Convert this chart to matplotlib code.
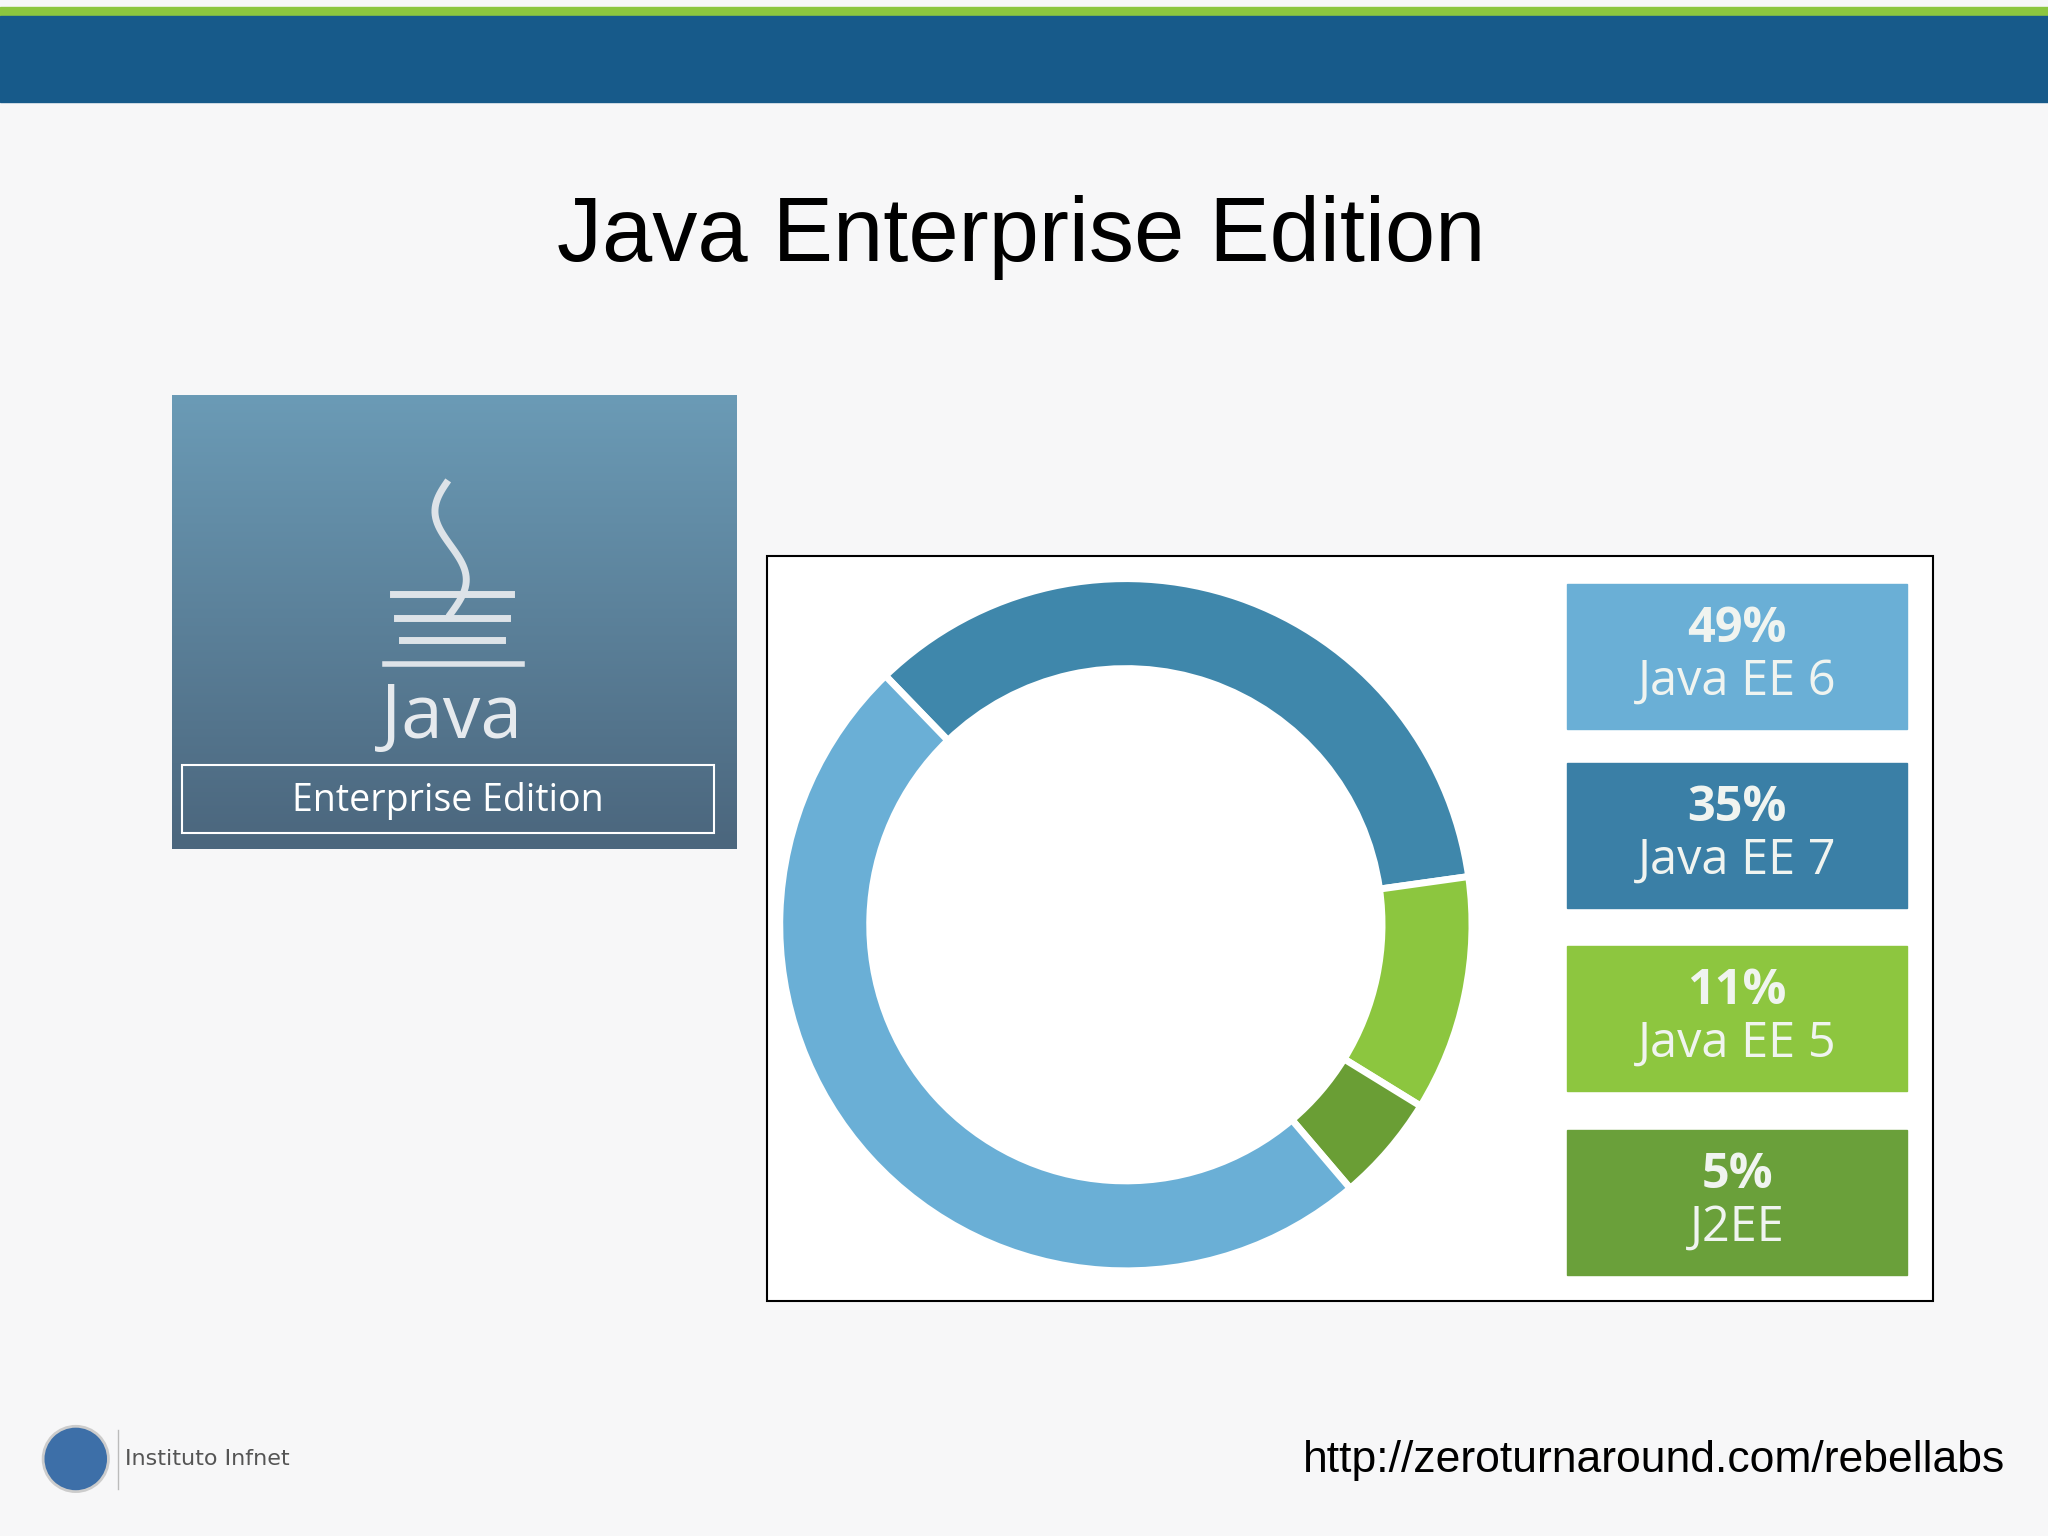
import matplotlib
matplotlib.use('Agg')
import matplotlib.pyplot as plt
from matplotlib.patches import Rectangle
import numpy as np

# data
labels = ['Java EE 7', 'Java EE 5', 'J2EE', 'Java EE 6']
shares = [35, 11, 5, 49]
wedge_colors = ['#3f87ab', '#8cc63f', '#6a9e35', '#6aafd6']
legend_labels = ['Java EE 6', 'Java EE 7', 'Java EE 5', 'J2EE']
legend_shares = [49, 35, 11, 5]
legend_colors = ['#6aafd6', '#3a7fa6', '#8dc63f', '#6aa03a']

W, H = 1568, 1176
fig = plt.figure(figsize=(20.48, 15.36), dpi=100)
fig.patch.set_facecolor('#f7f7f8')
bg = fig.add_axes([0, 0, 1, 1])
bg.set_xlim(0, W); bg.set_ylim(H, 0); bg.axis('off')

# header bands
bg.add_patch(Rectangle((0, 5), W, 7, color='#8cc63f'))
bg.add_patch(Rectangle((0, 12), W, 66, color='#175a8a'))

bg.text(782, 182, 'Java Enterprise Edition', ha='center', va='center',
        fontsize=65, family='Liberation Sans', color='black')

# java box with gradient
grad = np.linspace(0, 1, 256).reshape(-1, 1)
cmap = matplotlib.colors.LinearSegmentedColormap.from_list('g', ['#6b9bb6', '#4b667d'])
bg.imshow(grad, extent=(132, 564, 650, 303), cmap=cmap, aspect='auto', zorder=1)
bg.set_xlim(0, W); bg.set_ylim(H, 0)
bg.add_patch(Rectangle((139, 586), 408, 52, fill=False, ec='white', lw=1.5, zorder=2))
bg.text(343, 613, 'Enterprise Edition', ha='center', va='center', fontsize=27,
        family='Open Sans', color='white', zorder=3)
bg.text(346, 550, 'Java', ha='center', va='center', fontsize=54,
        family='Open Sans', color='#e6eaee', zorder=3)
# cup
t = np.linspace(0, 1, 50)
bg.plot(345 + 12*np.sin(t*6), 470 - 100*t, color='#dde3e8', lw=5, zorder=3)
for yy, hw in [(455, 45), (473, 42), (490, 38)]:
    bg.plot([346-hw, 346+hw], [yy, yy], color='#dde3e8', lw=5, zorder=3)
bg.plot([295, 400], [508, 508], color='#dde3e8', lw=4, zorder=3)

# chart box
bg.add_patch(Rectangle((587, 426), 893, 570, fc='white', ec='black', lw=1.5, zorder=1))

pie_ax = fig.add_axes([(862-265)/W, 1-(708+265)/H, 530/W, 530/H])
pie_ax.pie(shares, colors=wedge_colors, startangle=134, counterclock=False,
           wedgeprops=dict(width=0.26, edgecolor='white', linewidth=5))
pie_ax.set_xlim(-1, 1); pie_ax.set_ylim(-1, 1)
pie_ax.set_aspect('equal')

tops = [447, 584, 724, 865]
for top, lab, sh, col in zip(tops, legend_labels, legend_shares, legend_colors):
    bg.add_patch(Rectangle((1200, top), 260, 111, color=col, zorder=2))
    bg.text(1330, top + 35, f'{sh}%', ha='center', va='center', fontsize=35,
            fontweight='bold', family='Open Sans', color='#f0f4f0', zorder=3)
    bg.text(1330, top + 75, lab, ha='center', va='center', fontsize=35,
            family='Open Sans', color='#f0f4f0', zorder=3)

# footer
bg.add_patch(plt.Circle((58, 1117), 25, fc='#3d6fa8', ec='#cccccc', lw=2))
bg.plot([90, 90], [1095, 1140], color='#bbbbbb', lw=1)
bg.text(96, 1117, 'Instituto Infnet', ha='left', va='center', fontsize=16,
        family='DejaVu Sans', color='#555555')
bg.text(1535, 1118, 'http://zeroturnaround.com/rebellabs', ha='right', va='center',
        fontsize=32, family='Liberation Sans', color='black')

fig.savefig('out.png', dpi=100, facecolor=fig.get_facecolor())
